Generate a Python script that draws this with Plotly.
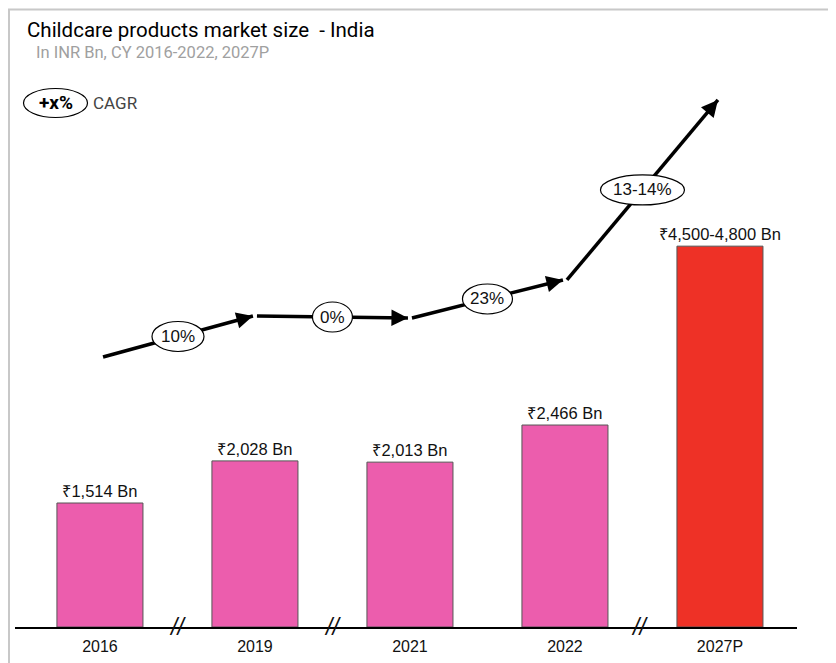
import plotly.graph_objects as go

# data
years = ["2016", "2019", "2021", "2022", "2027P"]
market_size = [1514, 2028, 2013, 2466, 4650]  # 2027P = midpoint of 4,500-4,800
value_labels = ["₹1,514 Bn", "₹2,028 Bn", "₹2,013 Bn", "₹2,466 Bn", "₹4,500-4,800 Bn"]
cagr_labels = ["10%", "0%", "23%", "13-14%"]
bar_colors = ["#EC5DAD", "#EC5DAD", "#EC5DAD", "#EC5DAD", "#EE3126"]

# arrow path levels (y in data units), drawn from bar i to bar i+1
arrow_levels = [3297, 3797, 3773, 4237, 6435]
ellipse_w = [52, 40, 50, 84]
break_after = [0, 1, 3]  # "//" axis breaks between these bars and the next

# page is shown with an 8px body margin; plot area 782x587 px
PW, PH = 782, 587
OX, OY = 15, 40  # plot-area top-left in reference pixels


def px(xp):
    return (xp - OX) / PW


def py(yp):
    return (OY + PH - yp) / PH


x = list(range(len(years)))
fig = go.Figure()

fig.add_trace(
    go.Bar(
        x=x,
        y=market_size,
        width=0.555,
        marker=dict(color=bar_colors, line=dict(color="#555555", width=1)),
        text=value_labels,
        textposition="outside",
        constraintext="none",
        textfont=dict(family="Liberation Sans, Arial", size=16.5, color="#111111"),
        cliponaxis=False,
        hoverinfo="skip",
    )
)

shapes = []
annotations = []
gap = 0.013
for i in range(len(cagr_labels)):
    x0, x1 = x[i] + gap, x[i + 1] - gap
    y0, y1 = arrow_levels[i], arrow_levels[i + 1]
    if i == 0:
        x0 = x[i] + 0.02
    shapes.append(dict(type="line", xref="x", yref="y", x0=x0, y0=y0, x1=x1, y1=y1,
                       line=dict(color="black", width=3.5), layer="above"))
    # arrowhead at the end of the segment
    annotations.append(dict(x=x1, y=y1, ax=x1 - (x1 - x0) * 0.08, ay=y1 - (y1 - y0) * 0.08,
                            xref="x", yref="y", axref="x", ayref="y", text="",
                            showarrow=True, arrowhead=2, arrowsize=1.1, arrowwidth=3,
                            arrowcolor="black", standoff=0))
    mx, my = (x0 + x1) / 2, (y0 + y1) / 2
    w = ellipse_w[i]
    shapes.append(dict(type="circle", xref="x", yref="y", xsizemode="pixel", ysizemode="pixel",
                       xanchor=mx, yanchor=my, x0=-w / 2, x1=w / 2, y0=-15, y1=15,
                       fillcolor="white", line=dict(color="black", width=1.2), layer="above"))
    annotations.append(dict(x=mx, y=my, xref="x", yref="y", text=cagr_labels[i], showarrow=False,
                            font=dict(family="Liberation Sans, Arial", size=17, color="#111111")))

for b in break_after:
    xb = x[b] + 0.5 if b != 3 else x[b] + 0.48
    annotations.append(dict(x=xb, y=0, xref="x", yref="y", text="<i>//</i>", showarrow=False,
                            font=dict(family="Liberation Sans, Arial", size=23, color="#111111")))

# legend: ellipse "+x%" CAGR
shapes.append(dict(type="circle", xref="paper", yref="paper", xsizemode="pixel", ysizemode="pixel",
                   xanchor=px(55.5), yanchor=py(103), x0=-32, x1=32, y0=-14.5, y1=14.5,
                   fillcolor="white", line=dict(color="black", width=1.2)))
annotations.append(dict(x=px(55.5), y=py(103), xref="paper", yref="paper",
                        text="<b>+x%</b>", showarrow=False, xanchor="center", yanchor="middle",
                        font=dict(family="Roboto", size=19, color="black")))
annotations.append(dict(x=px(91), y=py(103), xref="paper", yref="paper",
                        text="CAGR", showarrow=False, xanchor="left", yanchor="middle",
                        font=dict(family="Roboto", size=17, color="#444444")))
annotations.append(dict(x=px(34), y=py(52), xref="paper", yref="paper",
                        text="In INR Bn, CY 2016-2022, 2027P", showarrow=False,
                        xanchor="left", yanchor="middle",
                        font=dict(family="Roboto", size=16.5, color="#a0a0a0")))

# outer frame (top edge kept just inside the visible page)
shapes.append(dict(type="rect", xref="paper", yref="paper", x0=px(9), x1=1.2,
                   y0=-0.2, y1=py(9.5), line=dict(color="#c8c8c8", width=2),
                   fillcolor="rgba(0,0,0,0)", layer="below"))

fig.update_layout(
    width=828,
    height=655,
    margin=dict(l=OX - 8, r=828 - (OX - 8) - PW, t=OY - 8, b=655 - (OY - 8) - PH),
    paper_bgcolor="white",
    plot_bgcolor="white",
    showlegend=False,
    title=dict(text="Childcare products market size  - India", x=(27 - 8) / 828, xanchor="left",
               y=1 - (30 - 8) / 655, yanchor="middle", xref="container", yref="container",
               font=dict(family="Roboto", size=20.5, color="black")),
    shapes=shapes,
    annotations=annotations,
    xaxis=dict(range=[-0.548, 4.497], tickvals=x, ticktext=years, showgrid=False, zeroline=False,
               showline=True, linecolor="black", linewidth=1.5, ticks="", ticklabelstandoff=4,
               tickfont=dict(family="Liberation Sans, Arial", size=16, color="#111111")),
    yaxis=dict(range=[0, 7167], visible=False, showgrid=False),
)

fig.write_html("out.html")
